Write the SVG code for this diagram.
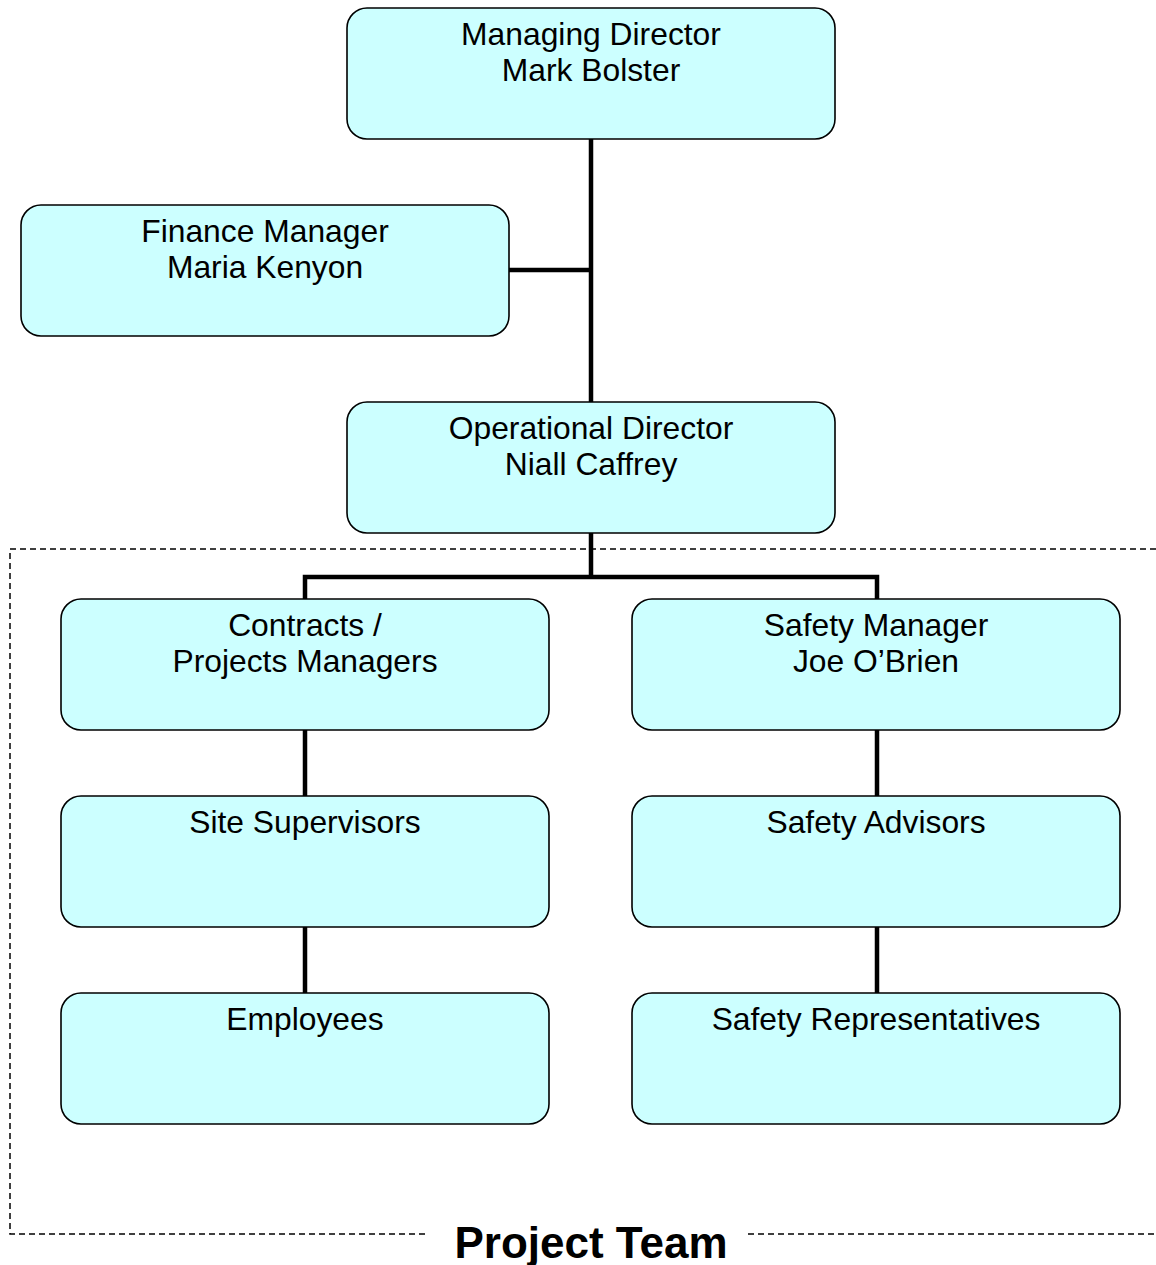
<svg xmlns="http://www.w3.org/2000/svg" width="1156" height="1265" viewBox="0 0 1156 1265">
<style>
.box{fill:#CCFFFF;stroke:#000;stroke-width:1.6}
.t{font-family:"Liberation Sans",Arial,sans-serif;font-size:31.8px;fill:#000;text-anchor:middle}
.c{stroke:#000;stroke-width:4.5;fill:none}
.d{stroke:#000;stroke-width:1.5;fill:none;stroke-dasharray:6 4}
</style>
<rect width="1156" height="1265" fill="#fff"/>
<g id="frame">
<path class="d" d="M425 1234 H10 V549 H1156"/>
<path class="d" d="M748 1234 H1156"/>
<text x="591" y="1258" font-family="Liberation Sans,Arial,sans-serif" font-size="44" font-weight="bold" text-anchor="middle">Project Team</text>
</g>
<g id="connectors">
<path class="c" d="M591 139 V402"/>
<path class="c" d="M509 270 H591"/>
<path class="c" d="M591 533 V577 M305 599 V577 H877 V599"/>
<path class="c" d="M305 730 V796 M305 927 V993"/>
<path class="c" d="M877 730 V796 M877 927 V993"/>
</g>
<g id="md"><rect class="box" x="347" y="8" width="488" height="131" rx="20"/><text class="t" x="591" y="45">Managing Director</text><text class="t" x="591" y="81">Mark Bolster</text></g>
<g id="fm"><rect class="box" x="21" y="205" width="488" height="131" rx="20"/><text class="t" x="265" y="242">Finance Manager</text><text class="t" x="265" y="278">Maria Kenyon</text></g>
<g id="od"><rect class="box" x="347" y="402" width="488" height="131" rx="20"/><text class="t" x="591" y="439">Operational Director</text><text class="t" x="591" y="475">Niall Caffrey</text></g>
<g id="cpm"><rect class="box" x="61" y="599" width="488" height="131" rx="20"/><text class="t" x="305" y="636">Contracts /</text><text class="t" x="305" y="672">Projects Managers</text></g>
<g id="sm"><rect class="box" x="632" y="599" width="488" height="131" rx="20"/><text class="t" x="876" y="636">Safety Manager</text><text class="t" x="876" y="672">Joe O’Brien</text></g>
<g id="ss"><rect class="box" x="61" y="796" width="488" height="131" rx="20"/><text class="t" x="305" y="833">Site Supervisors</text></g>
<g id="sa"><rect class="box" x="632" y="796" width="488" height="131" rx="20"/><text class="t" x="876" y="833">Safety Advisors</text></g>
<g id="emp"><rect class="box" x="61" y="993" width="488" height="131" rx="20"/><text class="t" x="305" y="1030">Employees</text></g>
<g id="sr"><rect class="box" x="632" y="993" width="488" height="131" rx="20"/><text class="t" x="876" y="1030">Safety Representatives</text></g>
</svg>
